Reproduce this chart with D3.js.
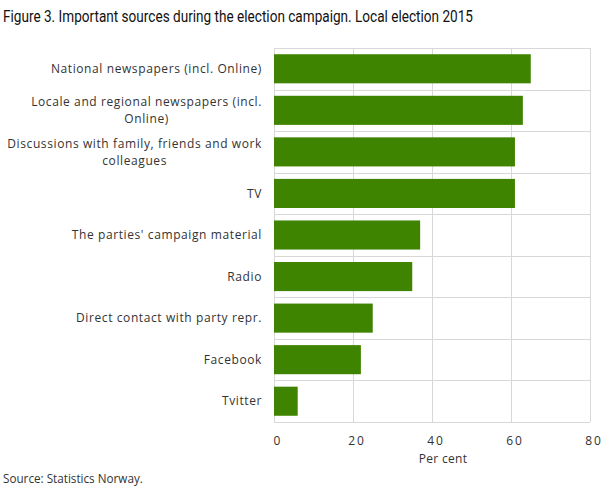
<!DOCTYPE html>
<html>
<head>
<meta charset="utf-8">
<script src="https://cdn.jsdelivr.net/npm/d3@7"></script>
<style>
    body { margin: 0; background: #fff; }
    svg { display: block; }
    .grid line { stroke: #d8d8d8; stroke-width: 1; }
    .label { font-family: "Open Sans", sans-serif; font-size: 12px; fill: #333; letter-spacing: 0.6px; }
    .tick-label { font-family: "Open Sans", sans-serif; font-size: 12px; fill: #333; letter-spacing: 2px; }
</style>
</head>
<body>
<svg id="chart"></svg>
<script>
const categories = [
    'National newspapers (incl. Online)',
    'Locale and regional newspapers (incl. Online)',
    'Discussions with family, friends and work colleagues',
    'TV',
    "The parties' campaign material",
    'Radio',
    'Direct contact with party repr.',
    'Facebook',
    'Tvitter'
];
const values = [65, 63, 61, 61, 37, 35, 25, 22, 6];
const xTicks = [0, 20, 40, 60, 80];

// manual wraps as in the original
const labelLines = [
    ['National newspapers (incl. Online)'],
    ['Locale and regional newspapers (incl.', 'Online)'],
    ['Discussions with family, friends and work', 'colleagues'],
    ['TV'],
    ["The parties' campaign material"],
    ['Radio'],
    ['Direct contact with party repr.'],
    ['Facebook'],
    ['Tvitter']
];

const W = 609, H = 489;
const margin = {top: 48, right: 19, bottom: 67, left: 274};
const width = W - margin.left - margin.right;
const height = H - margin.top - margin.bottom;

const root = d3.select('#chart').attr('width', W).attr('height', H);

// title (condensed face in the original, squeeze to its width)
root.append('text')
    .attr('x', 3)
    .attr('y', 22)
    .attr('textLength', 470)
    .attr('lengthAdjust', 'spacingAndGlyphs')
    .style('font-family', 'Roboto, sans-serif')
    .style('font-size', '17px')
    .style('fill', '#111')
    .text('Figure 3. Important sources during the election campaign. Local election 2015');

const svg = root.append('g')
    .attr('transform', `translate(${margin.left},${margin.top})`);

const x = d3.scaleLinear().domain([0, 80]).range([0, width]);
const y = d3.scaleBand().domain(categories).range([0, height]).paddingInner(0.3).paddingOuter(0.15);
const yGrid = d3.scaleBand().domain(categories).range([0, height]);

// vertical grid lines
svg.append('g')
    .attr('class', 'grid')
    .selectAll('line')
    .data(xTicks)
    .enter()
    .append('line')
    .attr('x1', d => Math.round(x(d)) + 0.5)
    .attr('x2', d => Math.round(x(d)) + 0.5)
    .attr('y1', 0)
    .attr('y2', height);

// horizontal grid lines between categories
const bounds = categories.map(c => yGrid(c)).concat([height]);
svg.append('g')
    .attr('class', 'grid')
    .selectAll('line')
    .data(bounds)
    .enter()
    .append('line')
    .attr('x1', 0)
    .attr('x2', width)
    .attr('y1', d => Math.round(d) + 0.5)
    .attr('y2', d => Math.round(d) + 0.5);

// bars
svg.selectAll('rect.bar')
    .data(values)
    .enter()
    .append('rect')
    .attr('class', 'bar')
    .attr('x', 0)
    .attr('y', (d, i) => y(categories[i]))
    .attr('width', d => x(d))
    .attr('height', y.bandwidth())
    .attr('fill', '#3f8400');

// category labels
const lineH = 17;
labelLines.forEach((lines, i) => {
    const cy = yGrid(categories[i]) + yGrid.bandwidth() / 2;
    const g = svg.append('g');
    const texts = lines.map((ln, j) => g.append('text')
        .attr('class', 'label')
        .attr('text-anchor', 'middle')
        .attr('dy', '0.35em')
        .attr('y', cy + (j - (lines.length - 1) / 2) * lineH)
        .text(ln));
    const maxW = d3.max(texts, t => t.node().getComputedTextLength());
    texts.forEach(t => t.attr('x', -12 - maxW / 2));
});

// x tick labels
svg.selectAll('text.tick-label')
    .data(xTicks)
    .enter()
    .append('text')
    .attr('class', 'tick-label')
    .attr('text-anchor', 'middle')
    .attr('x', d => x(d) + 4)
    .attr('y', height + 19)
    .attr('dy', '0.35em')
    .text(d => d);

// x axis title
svg.append('text')
    .attr('class', 'label')
    .attr('text-anchor', 'middle')
    .attr('x', 169)
    .attr('y', height + 37)
    .attr('dy', '0.35em')
    .style('letter-spacing', '0.3px')
    .text('Per cent');

// source
root.append('text')
    .attr('class', 'label')
    .attr('x', 3)
    .attr('y', 479)
    .attr('dy', '0.35em')
    .style('font-size', '11.7px')
    .style('letter-spacing', '0px')
    .text('Source: Statistics Norway.');
</script>
</body>
</html>
